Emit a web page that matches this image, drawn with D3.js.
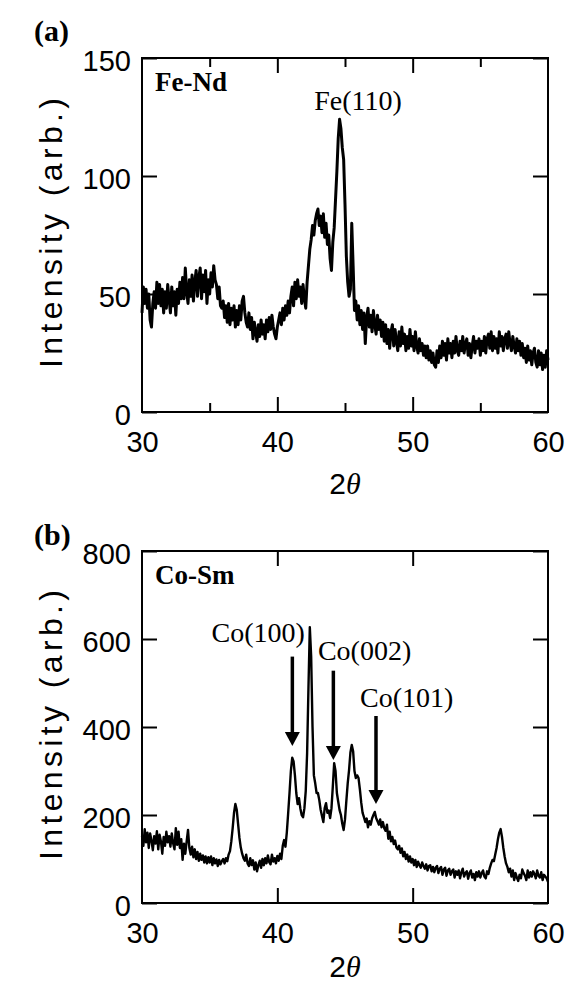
<!DOCTYPE html>
<html>
<head>
<meta charset="utf-8">
<script src="https://cdn.jsdelivr.net/npm/d3@7"></script>
<style>
  html, body { margin: 0; padding: 0; background: #fff; }
  svg { display: block; }
</style>
</head>
<body>
<svg id="chart" width="567" height="985"></svg>
<script>
// ---------- data ----------
// 2θ sampling grid: 30.0 … 60.0 in 0.1° steps (301 points)
const thetaStart = 30, thetaStep = 0.1, nPoints = 301;
const twoTheta = d3.range(nPoints).map(i => +(thetaStart + i * thetaStep).toFixed(1));

// (a) Fe-Nd intensity (arb.)
const feNd = [
  42,53,46,52,44,50,39,36,46,51,
  44,55,46,54,45,52,42,51,44,54,
  48,42,53,45,51,41,52,46,55,48,
  57,48,61,51,46,56,49,58,47,55,
  60,49,57,61,48,58,51,60,46,56,
  50,59,53,62,56,54,48,53,45,44,
  47,40,45,38,46,37,44,39,45,36,
  43,37,45,39,47,49,42,38,36,42,
  35,40,31,38,34,30,37,32,39,33,
  37,31,39,34,40,35,41,36,33,31,
  36,39,42,37,44,39,45,41,47,42,
  49,53,45,55,48,56,49,53,46,54,
  48,44,55,62,69,73,79,75,81,84,
  86,79,83,76,84,74,80,71,75,65,
  60,72,78,90,102,116,124,120,112,107,
  88,66,55,49,52,80,62,43,47,39,
  45,37,43,35,42,29,40,44,36,41,
  34,43,37,33,41,35,39,32,38,30,
  37,29,35,27,34,37,28,35,30,26,
  34,28,36,29,33,26,32,27,35,28,
  32,26,34,28,25,31,26,29,24,28,
  23,28,22,26,21,25,20,19,26,21,
  28,23,30,24,29,22,31,25,29,23,
  30,25,32,26,24,30,26,32,25,29,
  31,24,29,23,28,32,25,30,27,31,
  24,30,26,32,25,31,33,27,34,26,
  32,27,31,25,34,28,32,26,31,33,
  27,34,29,26,32,28,25,31,26,30,
  24,29,23,27,21,28,22,26,20,25,
  27,21,19,26,20,25,18,24,19,26,
  22
];

// (b) Co-Sm intensity (arb.)
const coSm = [
  152,130,168,138,160,125,158,142,120,152,
  135,163,122,155,140,112,150,130,162,138,
  152,128,158,136,122,170,132,162,125,145,
  98,135,112,140,166,125,110,128,104,122,
  100,116,96,112,98,108,92,106,90,104,
  92,106,86,102,90,99,84,98,88,95,
  100,90,102,95,110,118,140,170,205,225,
  212,180,148,126,112,102,96,110,90,84,
  102,86,97,76,92,72,86,96,80,100,
  86,102,90,108,93,88,110,94,102,90,
  107,96,112,100,130,143,128,160,204,250,
  300,330,322,290,250,225,238,215,200,195,
  215,255,340,490,627,560,400,290,272,250,
  250,234,212,198,184,216,227,205,210,193,
  215,265,318,300,250,230,211,200,180,166,
  190,232,272,302,342,359,345,300,284,290,
  284,258,228,205,195,184,192,172,186,178,
  192,200,207,193,186,178,190,172,184,170,
  164,178,146,162,140,150,134,142,126,122,
  130,114,124,106,116,100,110,94,106,92,
  100,86,98,82,94,86,80,92,84,78,
  88,74,84,86,72,82,70,80,84,68,
  78,82,64,76,80,62,74,78,64,72,
  76,58,72,64,74,56,70,78,60,68,
  72,55,68,74,58,66,52,70,60,72,
  58,68,74,60,56,72,66,80,90,98,
  95,110,125,145,160,168,150,125,105,90,
  82,70,78,60,74,52,68,58,50,64,
  56,76,68,62,52,74,58,70,60,72,
  66,56,74,62,58,70,52,64,60,56,
  48
];

const xTicksA = [30, 40, 50, 60];
const xMinorA = [35, 45, 55];
const yTicksA = [0, 50, 100, 150];
const xTicksB = [30, 40, 50, 60];
const yTicksB = [0, 200, 400, 600, 800];

const peakLabelA = { text: "Fe(110)", x: 45.96, y: 128 };
const annotB = [
  { text: "Co(100)", labelX: 42.04, labelY: 594, anchor: "end",   arrowX: 41.11, top: 560, tip: 357 },
  { text: "Co(002)", labelX: 43.00, labelY: 552, anchor: "start", arrowX: 44.14, top: 528, tip: 325 },
  { text: "Co(101)", labelX: 46.11, labelY: 445, anchor: "start", arrowX: 47.29, top: 425, tip: 225 }
];

// ---------- drawing ----------
const svg = d3.select("#chart");
const sans = '"Liberation Sans", Arial, sans-serif';
const serif = '"Liberation Serif", "Times New Roman", serif';

function panel(cfg) {
  const { left, right, top, bottom, yDomain, yTicks, xTicks, xMinor, values, strokeW,
          tag, tagY, sample, titleOffset } = cfg;
  const x = d3.scaleLinear().domain([30, 60]).range([left, right]);
  const y = d3.scaleLinear().domain(yDomain).range([bottom, top]);
  const g = svg.append("g");

  // frame
  g.append("rect").attr("x", left).attr("y", top)
    .attr("width", right - left).attr("height", bottom - top)
    .attr("fill", "none").attr("stroke", "#000").attr("stroke-width", 2);

  const styleAxis = sel => {
    sel.select(".domain").remove();
    sel.selectAll(".tick line").attr("stroke", "#000").attr("stroke-width", 2);
  };

  // bottom axis (with labels)
  const inner = xTicks.filter(v => v > 30 && v < 60);
  const bx = g.append("g").attr("transform", `translate(0,${bottom})`)
    .call(d3.axisBottom(x).tickValues(xTicks).tickSize(-15).tickPadding(19));
  styleAxis(bx);
  bx.selectAll(".tick line").attr("display", d => (d > 30 && d < 60) ? null : "none");
  bx.selectAll(".tick text").attr("font-size", 29).attr("font-family", sans).attr("fill", "#000");

  // top axis (ticks only)
  const tx = g.append("g").attr("transform", `translate(0,${top})`)
    .call(d3.axisTop(x).tickValues(inner).tickSize(-15).tickFormat(""));
  styleAxis(tx);

  if (xMinor) {
    [[bottom, d3.axisBottom], [top, d3.axisTop]].forEach(([yy, ax]) => {
      const m = g.append("g").attr("transform", `translate(0,${yy})`)
        .call(ax(x).tickValues(xMinor).tickSize(-9).tickFormat(""));
      styleAxis(m);
    });
  }

  // left axis (with labels)
  const ly = g.append("g").attr("transform", `translate(${left},0)`)
    .call(d3.axisLeft(y).tickValues(yTicks).tickSize(-15).tickPadding(11));
  styleAxis(ly);
  ly.selectAll(".tick text").attr("font-size", 29).attr("font-family", sans)
    .attr("fill", "#000").attr("dy", "0.42em");

  // right axis (ticks only)
  const ry = g.append("g").attr("transform", `translate(${right},0)`)
    .call(d3.axisRight(y).tickValues(yTicks).tickSize(-15).tickFormat(""));
  styleAxis(ry);

  // data line
  const line = d3.line().x((d, i) => x(twoTheta[i])).y(d => y(d));
  g.append("path").datum(values).attr("d", line)
    .attr("fill", "none").attr("stroke", "#000").attr("stroke-width", strokeW)
    .attr("stroke-linejoin", "round");

  // axis titles
  const cy = (top + bottom) / 2 - 2;
  g.append("text")
    .attr("transform", `translate(62,${cy}) rotate(-90)`)
    .attr("text-anchor", "middle")
    .attr("font-family", sans).attr("font-size", 32)
    .attr("textLength", 270).attr("lengthAdjust", "spacing")
    .text("Intensity (arb.)");

  const xt = g.append("text")
    .attr("x", (left + right) / 2).attr("y", bottom + titleOffset)
    .attr("text-anchor", "middle")
    .attr("font-family", sans).attr("font-size", 30);
  xt.append("tspan").text("2");
  xt.append("tspan").attr("font-family", serif).attr("font-style", "italic").text("θ");

  // panel tag
  g.append("text").attr("x", 34).attr("y", tagY)
    .attr("font-family", serif).attr("font-weight", "bold").attr("font-size", 30)
    .text(tag);

  // sample label
  g.append("text").attr("x", left + 13).attr("y", top + 33)
    .attr("font-family", serif).attr("font-weight", "bold").attr("font-size", 27)
    .text(sample);

  return { g, x, y };
}

// Panel (a)
const A = panel({
  left: 142, right: 548, top: 58, bottom: 412,
  yDomain: [0, 150], yTicks: yTicksA, xTicks: xTicksA, xMinor: xMinorA,
  values: feNd, strokeW: 3, tag: "(a)", tagY: 41, sample: "Fe-Nd", titleOffset: 82
});
A.g.append("text")
  .attr("x", A.x(peakLabelA.x)).attr("y", A.y(peakLabelA.y))
  .attr("text-anchor", "middle")
  .attr("font-family", serif).attr("font-size", 28)
  .text(peakLabelA.text);

// Panel (b)
const B = panel({
  left: 142, right: 548, top: 551, bottom: 903,
  yDomain: [0, 800], yTicks: yTicksB, xTicks: xTicksB, xMinor: null,
  values: coSm, strokeW: 2.4, tag: "(b)", tagY: 545, sample: "Co-Sm", titleOffset: 74
});

annotB.forEach(a => {
  B.g.append("text")
    .attr("x", B.x(a.labelX)).attr("y", B.y(a.labelY))
    .attr("text-anchor", a.anchor)
    .attr("font-family", serif).attr("font-size", 28)
    .text(a.text);
  const ax = B.x(a.arrowX);
  const yTop = B.y(a.top), yTip = B.y(a.tip);
  const headLen = 14, headHalf = 7.5;
  B.g.append("line")
    .attr("x1", ax).attr("x2", ax).attr("y1", yTop).attr("y2", yTip - headLen + 1)
    .attr("stroke", "#000").attr("stroke-width", 3.5);
  B.g.append("path")
    .attr("d", `M${ax - headHalf},${yTip - headLen} L${ax + headHalf},${yTip - headLen} L${ax},${yTip} Z`)
    .attr("fill", "#000");
});
</script>
</body>
</html>
